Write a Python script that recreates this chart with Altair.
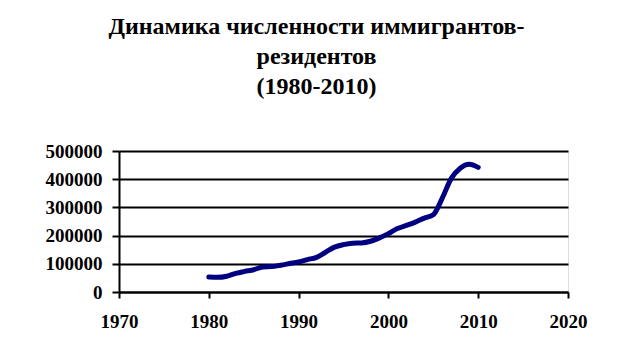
import altair as alt
import pandas as pd

years = list(range(1980, 2011))
values = [53000, 52000, 56000, 66000, 73000, 79000, 89000, 90000, 95000, 101000,
          107000, 115000, 123000, 141000, 159000, 168000, 173000, 174000, 180000, 192000,
          207000, 225000, 236000, 248000, 262000, 274000, 333000, 403000, 439000, 453000,
          442000]
x_ticks = [1970, 1980, 1990, 2000, 2010, 2020]
y_ticks = [0, 100000, 200000, 300000, 400000, 500000]
title_lines = ["Динамика численности иммигрантов-", "резидентов", "(1980-2010)"]

df = pd.DataFrame({"year": years, "value": values})

FONT = "Times New Roman, Liberation Serif, DejaVu Serif, serif"

chart = alt.Chart(df).mark_line(
    color="#000080", strokeWidth=5, interpolate="monotone", strokeCap="round"
).encode(
    x=alt.X("year:Q",
            scale=alt.Scale(domain=[1970, 2020], nice=False, zero=False),
            axis=alt.Axis(values=x_ticks, format="d", title=None, grid=False,
                          tickSize=6, tickWidth=2, tickColor="black",
                          domainColor="black", domainWidth=2, labelFlush=False,
                          labelFont=FONT, labelFontWeight="bold", labelFontSize=19,
                          labelColor="black", labelPadding=14)),
    y=alt.Y("value:Q",
            scale=alt.Scale(domain=[0, 500000], nice=False),
            axis=alt.Axis(values=y_ticks, format="d", title=None, grid=True,
                          gridColor="black", gridWidth=2, gridOpacity=1,
                          tickSize=7, tickWidth=2, tickColor="black",
                          domainColor="black", domainWidth=2, labelFlush=False,
                          labelFont=FONT, labelFontWeight="bold", labelFontSize=19,
                          labelColor="black", labelPadding=10)),
).properties(
    width=449,
    height=141,
    title=alt.TitleParams(text=title_lines, font=FONT, fontSize=24, fontWeight="bold",
                          color="black", lineHeight=30, anchor="middle", offset=43, dx=-27),
    autosize=alt.AutoSizeParams(type="none"),
    padding={"left": 111, "top": 143, "right": 60, "bottom": 50},
).configure_view(stroke=None).configure(background="white")

chart.save("out.html", embed_options={"renderer": "svg", "actions": False})
